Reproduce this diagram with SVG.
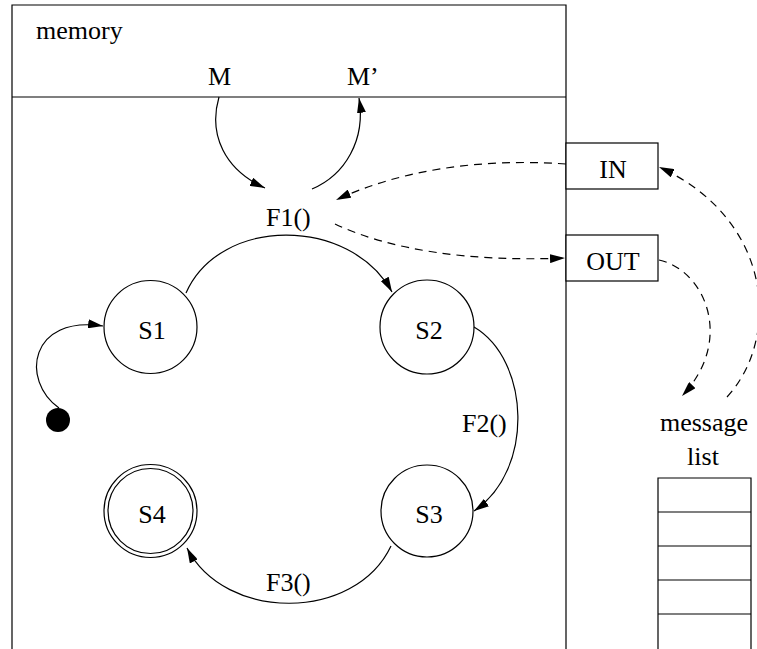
<svg xmlns="http://www.w3.org/2000/svg" width="757" height="649" viewBox="0 0 757 649">
<style>
text{font-family:"Liberation Serif","Times New Roman",serif;font-size:26px;fill:#000}
.ln{fill:none;stroke:#000;stroke-width:1.2}
.st{fill:#fff;stroke:#000;stroke-width:1.2}
.e{fill:none;stroke:#000;stroke-width:1.2;marker-end:url(#ah)}
.d{fill:none;stroke:#000;stroke-width:1.2;stroke-dasharray:8 6;marker-end:url(#ah)}
.m{text-anchor:middle}
</style>
<defs>
<marker id="ah" markerUnits="userSpaceOnUse" markerWidth="15" markerHeight="9" refX="15" refY="4.5" orient="auto">
<path d="M0,0 L15,4.5 L0,9 z" fill="#000"/>
</marker>
</defs>
<rect width="757" height="649" fill="#fff"/>
<g id="memory">
<path class="ln" d="M12,660 V5 H566 V660"/>
<line class="ln" x1="12" y1="97" x2="566" y2="97"/>
<text x="36" y="39">memory</text>
<text x="208" y="85">M</text>
<text x="347" y="85">M’</text>
</g>
<g id="F1"><text x="266" y="226">F1()</text></g>
<g id="F2"><text x="462" y="432">F2()</text></g>
<g id="F3"><text x="266" y="591">F3()</text></g>
<g id="IN"><rect class="st" x="566" y="143" width="92" height="46"/><text class="m" x="613" y="178">IN</text></g>
<g id="OUT"><rect class="st" x="566" y="235" width="92" height="46"/><text class="m" x="613" y="270">OUT</text></g>
<g id="init"><circle cx="58" cy="420" r="12" fill="#000"/></g>
<g id="S1"><circle class="st" cx="150.5" cy="327" r="46.5"/><text class="m" x="152" y="339">S1</text></g>
<g id="S2"><circle class="st" cx="427" cy="327" r="47"/><text class="m" x="429" y="339">S2</text></g>
<g id="S3"><circle class="st" cx="427" cy="511" r="46"/><text class="m" x="429" y="523">S3</text></g>
<g id="S4"><circle class="st" cx="150.5" cy="511" r="46.5"/><circle class="ln" cx="150.5" cy="511" r="42.5"/><text class="m" x="152" y="523">S4</text></g>
<g id="messagelist">
<text class="m" x="704" y="431">message</text>
<text class="m" x="703" y="465">list</text>
<path class="ln" d="M658,660 V478 H751 V660"/>
<line class="ln" x1="658" y1="512" x2="751" y2="512"/>
<line class="ln" x1="658" y1="546" x2="751" y2="546"/>
<line class="ln" x1="658" y1="580" x2="751" y2="580"/>
<line class="ln" x1="658" y1="614" x2="751" y2="614"/>
</g>
<g id="connectors">
<path class="e" d="M219,97 C208,135 225,170 265,188"/>
<path class="e" d="M312,189 C345,175 366,140 359,98"/>
<path class="e" d="M186,293 C220,216 350,216 392,292"/>
<path class="e" d="M474,327 C530,360 535,470 474,511"/>
<path class="e" d="M391,546 C355,622 225,622 187,548"/>
<path class="e" d="M59,408 C20,380 30,315 103,326"/>
<path class="d" d="M566,164 C480,158 400,170 336,200"/>
<path class="d" d="M335,224 C390,250 470,262 565,258"/>
<path class="d" d="M659,260 C705,270 735,340 682,396"/>
<path class="d" d="M727,397 C780,340 775,220 659,167"/>
</g>
</svg>
